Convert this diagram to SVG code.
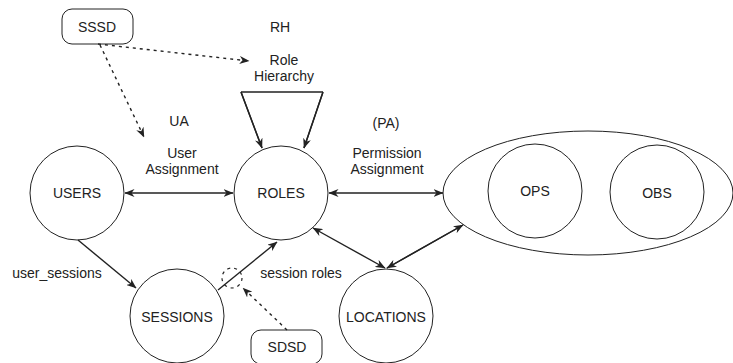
<svg xmlns="http://www.w3.org/2000/svg" width="733" height="363" viewBox="0 0 733 363">
<defs>
<style>
.n{fill:#fff;stroke:#222;stroke-width:1}
.t{font-family:"Liberation Sans",Arial,sans-serif;font-size:14px;fill:#222;text-anchor:middle;dominant-baseline:central}
.c{fill:none;stroke:#222;stroke-width:1.4}
.d{fill:none;stroke:#222;stroke-width:1.4;stroke-dasharray:3,4}
</style>
<marker id="ah" viewBox="0 0 10 8" refX="9.5" refY="4" markerWidth="10" markerHeight="8" markerUnits="userSpaceOnUse" orient="auto-start-reverse">
<path d="M0,0 L10,4 L0,8 L3,4 z" fill="#222"/>
</marker>
</defs>
<rect width="733" height="363" fill="#fff"/>
<g id="nodes">
<g id="users"><circle class="n" cx="77" cy="193" r="47"/><text class="t" x="77" y="193">USERS</text></g>
<g id="roles"><circle class="n" cx="281" cy="193" r="47"/><text class="t" x="281" y="193">ROLES</text></g>
<g id="sessions"><circle class="n" cx="177" cy="316" r="47"/><text class="t" x="177" y="317">SESSIONS</text></g>
<g id="locations"><circle class="n" cx="386" cy="316" r="47"/><text class="t" x="386" y="317">LOCATIONS</text></g>
<g id="perms"><ellipse class="n" cx="588" cy="193" rx="145" ry="62"/></g>
<g id="ops"><circle class="n" cx="535" cy="191" r="47"/><text class="t" x="535" y="191">OPS</text></g>
<g id="obs"><circle class="n" cx="657" cy="192" r="47"/><text class="t" x="657" y="193">OBS</text></g>
<g id="sssd"><rect class="n" x="62" y="9" width="71" height="35" rx="10"/><text class="t" x="97" y="27">SSSD</text></g>
<g id="sdsd"><rect class="n" x="251" y="330" width="71" height="34" rx="10"/><text class="t" x="287" y="347">SDSD</text></g>
</g>
<g id="connectors">
<path class="c" d="M241,92 L323,92 M241,92 L262,148 M323,92 L304,148"/>
<line class="c" x1="241" y1="92" x2="262" y2="148" marker-end="url(#ah)"/>
<line class="c" x1="323" y1="92" x2="304" y2="148" marker-end="url(#ah)"/>
<line class="c" x1="125" y1="193" x2="233" y2="193" marker-start="url(#ah)" marker-end="url(#ah)"/>
<line class="c" x1="329" y1="193" x2="443" y2="193" marker-start="url(#ah)" marker-end="url(#ah)"/>
<line class="c" x1="78" y1="240" x2="136" y2="288" marker-end="url(#ah)"/>
<line class="c" x1="218" y1="290" x2="277" y2="242" marker-end="url(#ah)"/>
<line class="c" x1="313" y1="228" x2="385" y2="268" marker-start="url(#ah)" marker-end="url(#ah)"/>
<line class="c" x1="387" y1="268" x2="463" y2="225" marker-end="url(#ah)"/>
<line class="c" x1="387" y1="268" x2="463" y2="225" marker-start="url(#ah)"/>
<circle class="d" cx="232" cy="278" r="10" style="stroke-width:1.2"/>
<line class="d" x1="287" y1="330" x2="243" y2="288" marker-end="url(#ah)"/>
<line class="d" x1="98" y1="44" x2="249" y2="61" marker-end="url(#ah)"/>
<line class="d" x1="100" y1="45" x2="144" y2="137" marker-end="url(#ah)"/>
</g>
<g id="labels">
<text class="t" x="280" y="27">RH</text>
<text class="t" x="284" y="60">Role</text>
<text class="t" x="284" y="76">Hierarchy</text>
<text class="t" x="179" y="121">UA</text>
<text class="t" x="182" y="153">User</text>
<text class="t" x="182" y="169">Assignment</text>
<text class="t" x="386" y="123">(PA)</text>
<text class="t" x="387" y="153">Permission</text>
<text class="t" x="387" y="169">Assignment</text>
<text class="t" x="57" y="273">user_sessions</text>
<text class="t" x="301" y="273">session roles</text>
</g>
</svg>
